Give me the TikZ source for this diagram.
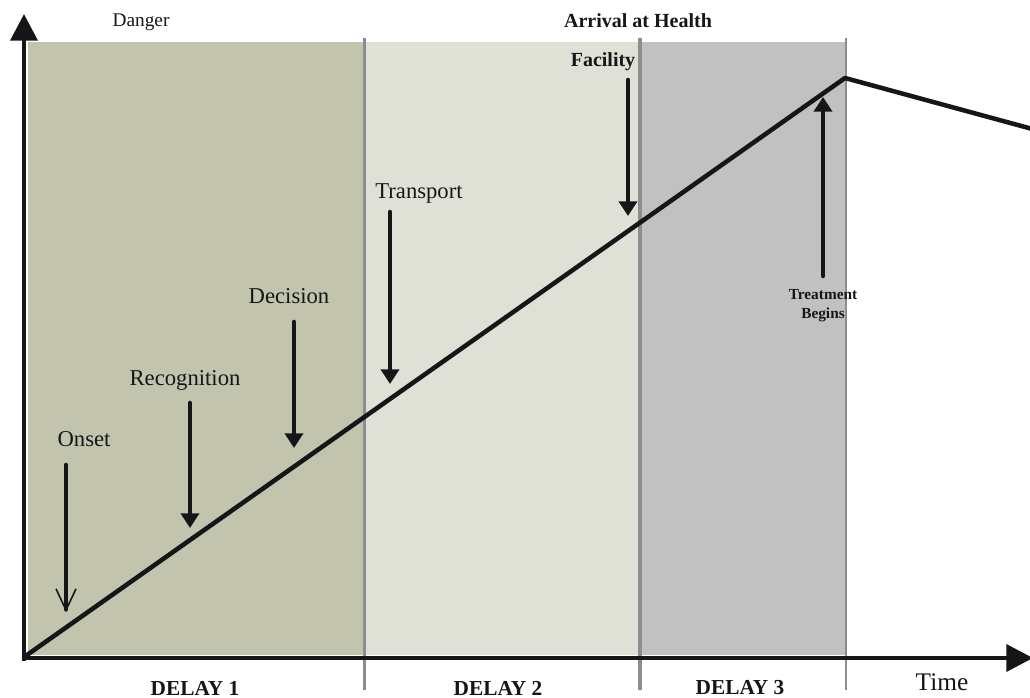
\documentclass[tikz,border=0pt]{standalone}
\usepackage{fontspec}
\setmainfont{Liberation Serif}
\usetikzlibrary{arrows.meta}
\definecolor{regA}{RGB}{194,196,174}
\definecolor{regB}{RGB}{224,225,214}
\definecolor{regC}{RGB}{193,193,193}
\definecolor{sepgray}{RGB}{138,141,145}
\definecolor{ink}{RGB}{22,22,24}
\tikzset{
  axis/.style={draw=ink, line width=3.6pt, -{Triangle[length=20pt,width=20pt]}},
  mainline/.style={draw=ink, line width=3.4pt, line join=round, line cap=round},
  arr/.style={draw=ink, line width=3.4pt, line cap=round, -{Triangle[length=11pt,width=13.5pt]}},
  openarr/.style={draw=ink, line width=3.4pt, line cap=round, -{Straight Barb[length=16pt,width=15pt,line width=1.2pt]}},
  sep/.style={draw=sepgray, line width=1.6pt},
  lbl/.style={inner sep=0pt, font=\fontsize{17}{20}\selectfont, text=ink},
  blbl/.style={inner sep=0pt, font=\fontsize{15}{18}\selectfont\bfseries, text=ink},
  sblbl/.style={inner sep=0pt, font=\fontsize{11.5}{14}\selectfont\bfseries, text=ink, align=center},
  dlbl/.style={inner sep=0pt, font=\fontsize{16}{18}\selectfont\bfseries, text=ink},
}
\begin{document}
\begin{tikzpicture}[x=0.75pt,y=-0.75pt]
\useasboundingbox (0,0) rectangle (1030,698);
% regions
\fill[regA] (28,42) rectangle (364,655);
\fill[regB] (364,42) rectangle (640,655);
\fill[regC] (640,42) rectangle (846,655);
% separators
\draw[sep] (364.5,38) -- (364.5,690);
\draw[sep, line width=2.3pt] (640,38) -- (640,690);
\draw[sep] (846,38) -- (846,690);
% axes
\coordinate (org) at (24,658);
\coordinate (ytip) at (24,14);
\coordinate (xtip) at (1033,658);
\draw[axis] (24,661) -- (ytip);
\draw[axis] (22,658) -- (xtip);
% main line
\coordinate (o) at (27,655);
\coordinate (peak) at (845,78);
\coordinate (rend) at (1036,130);
\draw[mainline] (o) -- (peak) -- (rend);
% labels
\node[lbl, font=\fontsize{14.5}{17}\selectfont] (danger) at (141,22) {Danger};
\node[blbl] (arrival) at (638,21) {Arrival at Health};
\node[blbl] (facility) at (603,62) {Facility};
\node[lbl] (transport) at (419,193) {Transport};
\node[lbl] (decision) at (289,296) {Decision};
\node[lbl] (recog) at (185,380) {Recognition};
\node[lbl] (onset) at (84,439) {Onset};
\node[sblbl] (treat) at (823,306) {Treatment\\Begins};
\node[dlbl] (d1) at (195,688) {DELAY 1};
\node[dlbl] (d2) at (498,688) {DELAY 2};
\node[dlbl] (d3) at (740,688) {DELAY 3};
\node[lbl, font=\fontsize{19}{22}\selectfont] (time) at (942,682) {Time};
% arrows
\coordinate (onS) at (66,465); \coordinate (onE) at (66,612);
\coordinate (reS) at (190,403); \coordinate (reE) at (190,528);
\coordinate (deS) at (294,322); \coordinate (deE) at (294,448);
\coordinate (trS) at (390,212); \coordinate (trE) at (390,384);
\coordinate (faS) at (628,80); \coordinate (faE) at (628,216);
\coordinate (tbS) at (823,276); \coordinate (tbE) at (823,97);
\draw[openarr] (onS) -- (onE);
\draw[arr] (reS) -- (reE);
\draw[arr] (deS) -- (deE);
\draw[arr] (trS) -- (trE);
\draw[arr] (faS) -- (faE);
\draw[arr] (tbS) -- (tbE);
\end{tikzpicture}
\end{document}
